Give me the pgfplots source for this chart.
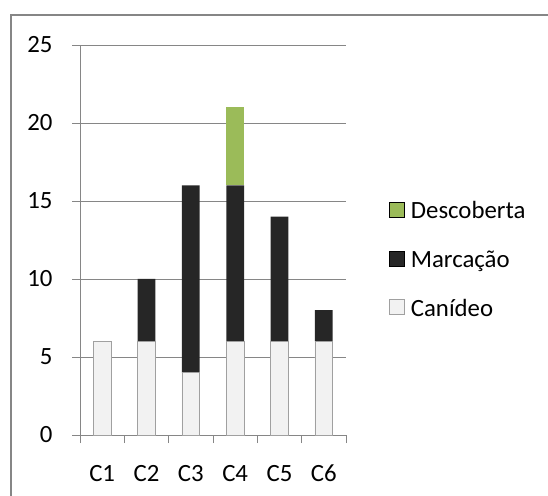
\documentclass[border=0pt]{standalone}
\usepackage{pgfplots}
\pgfplotsset{compat=1.18}
\usepackage{fontspec}
\setmainfont{Carlito}
\definecolor{canideo}{HTML}{F2F2F2}
\definecolor{canideoB}{HTML}{A0A0A0}
\definecolor{marcacao}{HTML}{262626}
\definecolor{descoberta}{HTML}{9BBB59}
\definecolor{gridc}{HTML}{868686}
\begin{document}
\begin{tikzpicture}[x=1pt,y=1pt]
\useasboundingbox (-80,-60) rectangle (468,435);
\draw[gridc, line width=1.5pt] (-69,-70) -- (-69,420) -- (480,420);
\begin{axis}[
  at={(0,0)}, anchor=south west,
  scale only axis, width=266pt, height=390pt,
  font=\fontsize{24.8}{29}\selectfont,
  /pgf/number format/assume math mode=true,
  ybar stacked, bar width=0.4,
  xmin=-0.5, xmax=5.5, ymin=0, ymax=25,
  axis x line=bottom, axis y line=left,
  axis line style={gridc, line width=0.8pt, -},
  xtick={0,1,2,3,4,5},
  xticklabels={C1,C2,C3,C4,C5,C6},
  minor xtick={-0.5,0.5,1.5,2.5,3.5,4.5,5.5},
  ytick={0,5,10,15,20,25},
  tick align=outside,
  major tick length=8pt, minor tick length=8pt,
  x tick style={draw=none},
  minor x tick style={draw=gridc, line width=0.8pt},
  y tick style={gridc, line width=0.8pt},
  ymajorgrids, major grid style={gridc, line width=0.8pt},
  xticklabel style={anchor=base, yshift=-38pt},
  yticklabel style={xshift=-16pt},
  legend style={draw=none, fill=none, at={(1.15,0.449)}, anchor=west,
    row sep=26.5pt, font=\fontsize{24.8}{29}\selectfont,
    /tikz/every odd column/.append style={column sep=4pt}},
  legend cell align=left,
  reverse legend,
  legend image code/.code={\draw[#1] (0pt,-6pt) rectangle (15pt,9pt);},
]
\addplot[fill=canideo, draw=canideoB, line width=0.8pt] coordinates {(0,6) (1,6) (2,4) (3,6) (4,6) (5,6)};
\addplot[fill=marcacao, draw=none] coordinates {(0,0) (1,4) (2,12) (3,10) (4,8) (5,2)};
\addplot[fill=descoberta, draw=none] coordinates {(0,0) (1,0) (2,0) (3,5) (4,0) (5,0)};
\legend{Canídeo,Marcação,Descoberta}
\end{axis}
\end{tikzpicture}
\end{document}
